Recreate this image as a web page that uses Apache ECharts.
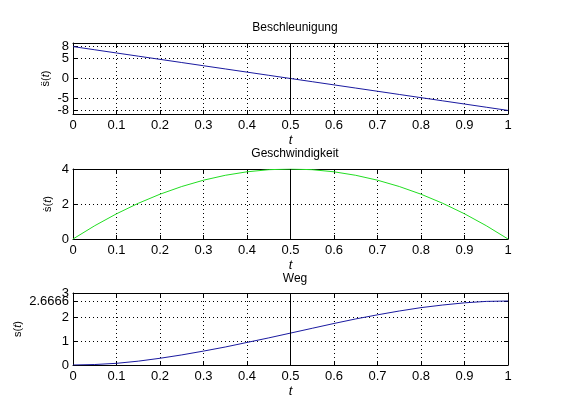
<!DOCTYPE html>
<html>
<head>
<meta charset="utf-8">
<script src="https://cdn.jsdelivr.net/npm/echarts@6/dist/echarts.min.js"></script>
<style>
  html, body { margin: 0; padding: 0; background: #fff; }
  #chart { width: 561px; height: 420px; }
</style>
</head>
<body>
<div id="chart"></div>
<script>
// Zeitpunkte t (0 ... 1)
const tValues = [0, 0.05, 0.1, 0.15, 0.2, 0.25, 0.3, 0.35, 0.4, 0.45, 0.5,
                 0.55, 0.6, 0.65, 0.7, 0.75, 0.8, 0.85, 0.9, 0.95, 1]
// Beschleunigung, Geschwindigkeit, Weg
const beschleunigung = [8, 7.2, 6.4, 5.6, 4.8, 4, 3.2, 2.4, 1.6, 0.8, 0,
                        -0.8, -1.6, -2.4, -3.2, -4, -4.8, -5.6, -6.4, -7.2, -8]
const geschwindigkeit = [0, 0.76, 1.44, 2.04, 2.56, 3.0, 3.36, 3.64, 3.84, 3.96, 4.0,
                         3.96, 3.84, 3.64, 3.36, 3.0, 2.56, 2.04, 1.44, 0.76, 0]
const weg = [0, 0.02, 0.07, 0.16, 0.28, 0.42, 0.58, 0.75, 0.94, 1.13, 1.33,
             1.53, 1.73, 1.92, 2.09, 2.25, 2.39, 2.5, 2.59, 2.65, 2.6666]
// Achsenbeschriftungen (je Achse zwei Gruppen, damit sich nichts gegenseitig ausblendet)
const yTicksA = [-8, 0, 8]
const yTicksA2 = [-5, 5]
const yTicksV = [0, 2, 4]
const yTicksS = [0, 1, 2, 3]
const yTicksS2 = [2.6666]
const titles = ['Beschleunigung', 'Geschwindigkeit', 'Weg']

const font = 'Liberation Sans, Arial, sans-serif'
const grids = [
    { left: 73, right: 53, top: 43, height: 71 },
    { left: 73, right: 53, top: 169, height: 70 },
    { left: 73, right: 53, top: 293, height: 72 }
]

const pairs = (ys) => tValues.map((t, i) => [t, ys[i]])

const xBottom = (idx) => ({
    type: 'value', gridIndex: idx, position: 'bottom',
    min: 0, max: 1, interval: 0.1,
    name: 't', nameLocation: 'middle', nameGap: 20,
    nameTextStyle: { fontFamily: font, fontSize: 13, fontStyle: 'italic', color: '#000' },
    axisLine: { onZero: false, lineStyle: { color: '#000', width: 1 } },
    axisTick: { inside: true, length: 4, lineStyle: { color: '#000' } },
    axisLabel: { fontFamily: font, fontSize: 13, color: '#000', margin: 5 },
    splitLine: { show: true, lineStyle: { color: '#000', type: [1, 3], width: 1 } }
})

const xTop = (idx) => ({
    type: 'value', gridIndex: idx, position: 'top',
    min: 0, max: 1, interval: 0.1,
    axisLine: { onZero: false, lineStyle: { color: '#000', width: 1 } },
    axisTick: { inside: true, length: 4, lineStyle: { color: '#000' } },
    axisLabel: { show: false },
    splitLine: { show: false }
})

const yLeft = (idx, min, max, ticks, name, gap) => ({
    type: 'value', gridIndex: idx, position: 'left',
    min: min, max: max,
    name: name, nameLocation: 'middle', nameGap: gap, nameRotate: 90,
    nameMoveOverlap: false,
    nameTextStyle: {
        fontFamily: font, fontSize: 11, color: '#000',
        rich: {
            n: { fontFamily: font, fontSize: 11, color: '#000' },
            i: { fontFamily: font, fontSize: 11, color: '#000', fontStyle: 'italic' }
        }
    },
    axisLine: { onZero: false, lineStyle: { color: '#000', width: 1 } },
    axisTick: { inside: true, length: 4, lineStyle: { color: '#000' }, customValues: ticks },
    axisLabel: {
        fontFamily: font, fontSize: 13, color: '#000', margin: 4,
        customValues: ticks, hideOverlap: false
    },
    splitLine: { show: true, lineStyle: { color: '#000', type: [1, 3], width: 1 } }
})

// zweite linke Achse nur für die zusätzlichen Beschriftungen
const yLeftExtra = (idx, min, max, ticks) => ({
    type: 'value', gridIndex: idx, position: 'left', offset: 0,
    min: min, max: max,
    axisLine: { show: false, onZero: false },
    axisTick: { show: true, inside: true, length: 4, lineStyle: { color: '#000' }, customValues: ticks },
    axisLabel: {
        fontFamily: font, fontSize: 13, color: '#000', margin: 4,
        customValues: ticks, hideOverlap: false
    },
    splitLine: { show: true, lineStyle: { color: '#000', type: [1, 3], width: 1 } }
})

const yRight = (idx, min, max, ticks) => ({
    type: 'value', gridIndex: idx, position: 'right',
    min: min, max: max,
    axisLine: { show: true, onZero: false, lineStyle: { color: '#000', width: 1 } },
    axisTick: { show: true, inside: true, length: 4, lineStyle: { color: '#000' }, customValues: ticks },
    axisLabel: { show: false },
    splitLine: { show: false }
})

const mittelLinie = {
    silent: true, symbol: 'none', animation: false,
    label: { show: false },
    lineStyle: { color: '#000', type: 'solid', width: 1 },
    data: [{ xAxis: 0.5 }]
}

const lineSeries = (idx, ys, color) => ({
    type: 'line', xAxisIndex: idx, yAxisIndex: idx,
    data: pairs(ys), showSymbol: false, symbol: 'none',
    lineStyle: { color: color, width: 1 },
    markLine: mittelLinie
})

const myEcharts = echarts.init(document.getElementById('chart'))
const option = {
    backgroundColor: '#fff',
    animation: false,
    title: titles.map((txt, i) => ({
        text: txt, left: 290, textAlign: 'center', top: grids[i].top - 26 + (i === 2 ? 1 : 0),
        textStyle: { fontFamily: font, fontSize: 12, fontWeight: 'normal', color: '#000' }
    })),
    grid: grids,
    xAxis: [xBottom(0), xBottom(1), xBottom(2), xTop(0), xTop(1), xTop(2)],
    yAxis: [
        yLeft(0, -8.9, 8.9, yTicksA, '{n|s\u0308(}{i|t}{n|)}', 22),
        yLeft(1, 0, 4, yTicksV, '{n|\u1E61(}{i|t}{n|)}', 20),
        yLeft(2, 0, 3, yTicksS, '{n|s(}{i|t}{n|)}', 50),
        yRight(0, -8.9, 8.9, yTicksA.concat(yTicksA2)),
        yRight(1, 0, 4, yTicksV),
        yRight(2, 0, 3, yTicksS.concat(yTicksS2)),
        yLeftExtra(0, -8.9, 8.9, yTicksA2),
        yLeftExtra(2, 0, 3, yTicksS2)
    ],
    series: [
        lineSeries(0, beschleunigung, '#1a1aa0'),
        lineSeries(1, geschwindigkeit, '#22dd22'),
        lineSeries(2, weg, '#1a1aa0')
    ]
}
myEcharts.setOption(option)
</script>
</body>
</html>
